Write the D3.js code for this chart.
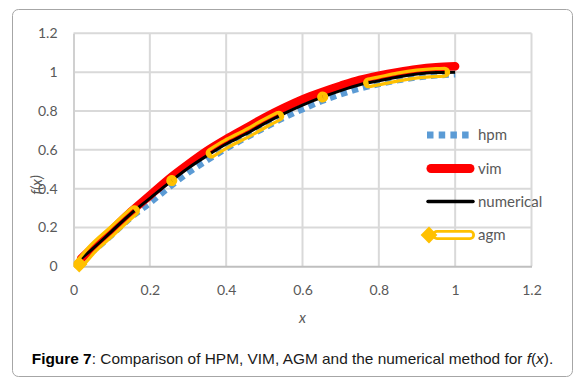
<!DOCTYPE html>
<html>
<head>
<meta charset="utf-8">
<script src="https://cdn.jsdelivr.net/npm/d3@7"></script>
<style>
  html, body { margin: 0; padding: 0; background: #fff; }
  svg { display: block; }
</style>
</head>
<body>
<svg id="chart" width="578" height="384"></svg>
<script>
// ---------- data ----------
const xValues = [0.02, 0.05, 0.1, 0.15, 0.2, 0.25, 0.3, 0.35, 0.4, 0.45, 0.5, 0.55, 0.6, 0.65, 0.7, 0.75, 0.8, 0.85, 0.9, 0.95, 1.0];
const hpmValues = [0.03, 0.075, 0.16, 0.25, 0.325, 0.405, 0.48, 0.545, 0.605, 0.66, 0.712, 0.763, 0.808, 0.85, 0.885, 0.915, 0.938, 0.958, 0.972, 0.982, 0.988];
const vimValues = [0.04, 0.095, 0.185, 0.28, 0.365, 0.45, 0.525, 0.595, 0.655, 0.71, 0.765, 0.815, 0.86, 0.897, 0.93, 0.96, 0.982, 1.0, 1.015, 1.025, 1.03];
const numericalValues = [0.04, 0.09, 0.18, 0.27, 0.35, 0.43, 0.505, 0.57, 0.63, 0.68, 0.735, 0.785, 0.83, 0.87, 0.905, 0.935, 0.955, 0.975, 0.99, 0.998, 1.0];
const agmX = [0.015, 0.05, 0.1, 0.15, 0.2, 0.25, 0.3, 0.35, 0.4, 0.45, 0.5, 0.55, 0.6, 0.65, 0.7, 0.75, 0.8, 0.85, 0.9, 0.95, 0.98];
const agmValues = [0.01, 0.09, 0.18, 0.27, 0.35, 0.43, 0.505, 0.57, 0.63, 0.68, 0.735, 0.785, 0.83, 0.87, 0.905, 0.935, 0.955, 0.975, 0.99, 0.998, 1.0];
const seriesNames = ["hpm", "vim", "numerical", "agm"];
const xTicks = [0, 0.2, 0.4, 0.6, 0.8, 1, 1.2];
const yTicks = [0, 0.2, 0.4, 0.6, 0.8, 1, 1.2];
const xTitle = "x";
const yTitle = "f(x)";

// ---------- layout ----------
const svg = d3.select("#chart");
const W = 578, H = 384;
const x = d3.scaleLinear().domain([0, 1.2]).range([73.5, 531.5]);
const y = d3.scaleLinear().domain([0, 1.2]).range([266.3, 33.3]);
const font = "Lato, 'Open Sans', sans-serif";
const labelColor = "#595959";

// outer frame
svg.append("rect").attr("x", 12.5).attr("y", 9.5).attr("width", 560).attr("height", 367)
  .attr("rx", 6).attr("fill", "#fff").attr("stroke", "#a6a6a6").attr("stroke-width", 1);

// grid
const grid = svg.append("g");
grid.selectAll("line.h").data(yTicks.filter(d => d > 0)).join("line")
  .attr("x1", x(0)).attr("x2", x(1.2)).attr("y1", d => y(d)).attr("y2", d => y(d))
  .attr("stroke", "#d9d9d9").attr("stroke-width", 2);
grid.selectAll("line.v").data(xTicks.filter(d => d > 0)).join("line")
  .attr("y1", y(0)).attr("y2", y(1.2)).attr("x1", d => x(d)).attr("x2", d => x(d))
  .attr("stroke", "#d9d9d9").attr("stroke-width", 2);

// axes
const fmt = d => (d === 0 ? "0" : d === 1 ? "1" : String(d));
const xAxis = svg.append("g").attr("transform", `translate(0,${y(0)})`)
  .call(d3.axisBottom(x).tickValues(xTicks).tickFormat(fmt).tickSize(0).tickPadding(19));
const yAxis = svg.append("g").attr("transform", `translate(${x(0)},0)`)
  .call(d3.axisLeft(y).tickValues(yTicks).tickFormat(fmt).tickSize(0).tickPadding(16));
[xAxis, yAxis].forEach(a => {
  a.select(".domain").attr("stroke", "#bfbfbf").attr("stroke-width", 2);
  a.selectAll("text").attr("fill", labelColor).style("font-family", font).style("font-size", "14px");
});
yAxis.select(".domain").attr("stroke", "#d0d0d0");

// axis titles
svg.append("text").attr("x", x(0.6)).attr("y", 323).attr("text-anchor", "middle")
  .style("font-family", font).style("font-size", "15px").style("font-style", "italic")
  .attr("fill", labelColor).text(xTitle);
svg.append("text").attr("transform", "translate(42,185) rotate(-90)").attr("text-anchor", "middle")
  .style("font-family", font).style("font-size", "15px").style("font-style", "italic")
  .attr("fill", labelColor).text(yTitle);

// ---------- series ----------
const line = d3.line().x(d => x(d[0])).y(d => y(d[1])).curve(d3.curveMonotoneX);
const hpm = xValues.map((v, i) => [v, hpmValues[i]]);
const vim = xValues.map((v, i) => [v, vimValues[i]]);
const num = xValues.map((v, i) => [v, numericalValues[i]]);
const agm = agmX.map((v, i) => [v, agmValues[i]]);

const colors = { hpm: "#5b9bd5", vim: "#ff0000", numerical: "#000000", agm: "#ffc000" };

svg.append("path").attr("d", line(hpm)).attr("fill", "none").attr("stroke", colors.hpm)
  .attr("stroke-width", 6).attr("stroke-dasharray", "6.5,5");
svg.append("path").attr("d", line(vim)).attr("fill", "none").attr("stroke", colors.vim)
  .attr("stroke-width", 8.5).attr("stroke-linecap", "round").attr("stroke-linejoin", "round");
svg.append("path").attr("d", line(num)).attr("fill", "none").attr("stroke", colors.numerical)
  .attr("stroke-width", 3);

// agm: hollow dash-dot line (transparent centre) via mask
const defs = svg.append("defs");
const agmDash = "77,48,0.1,48";
const mask = defs.append("mask").attr("id", "agmMask").attr("maskUnits", "userSpaceOnUse")
  .attr("x", 0).attr("y", 0).attr("width", W).attr("height", H);
mask.append("rect").attr("width", W).attr("height", H).attr("fill", "#fff");
mask.append("path").attr("d", line(agm)).attr("fill", "none").attr("stroke", "#000")
  .attr("stroke-width", 4.5).attr("stroke-dasharray", agmDash).attr("stroke-linecap", "butt");
defs.append("clipPath").attr("id", "plotClip").append("rect")
  .attr("x", x(0)).attr("y", 0).attr("width", x(1.2) - x(0) + 20).attr("height", 300);

const agmG = svg.append("g").attr("clip-path", "url(#plotClip)");
agmG.append("path").attr("d", line(agm)).attr("fill", "none").attr("stroke", colors.agm)
  .attr("stroke-width", 11).attr("stroke-dasharray", agmDash).attr("stroke-linecap", "round")
  .attr("stroke-linejoin", "round").attr("mask", "url(#agmMask)");
agmG.append("path").attr("d", d3.symbol().type(d3.symbolDiamond2).size(170)())
  .attr("transform", `translate(${x(agm[0][0])},${y(agm[0][1])})`).attr("fill", colors.agm);

// ---------- legend ----------
const lg = svg.append("g");
const rowsY = [135, 168.5, 201.5, 235];
const lx1 = 427, lx2 = 474;
seriesNames.forEach((name, i) => {
  const yy = rowsY[i];
  if (name === "hpm") {
    lg.append("line").attr("x1", lx1).attr("x2", lx2 - 4).attr("y1", yy).attr("y2", yy)
      .attr("stroke", colors.hpm).attr("stroke-width", 7).attr("stroke-dasharray", "6.5,5.2");
  } else if (name === "vim") {
    lg.append("line").attr("x1", lx1 + 4).attr("x2", lx2 - 4).attr("y1", yy).attr("y2", yy)
      .attr("stroke", colors.vim).attr("stroke-width", 9).attr("stroke-linecap", "round");
  } else if (name === "numerical") {
    lg.append("line").attr("x1", lx1 + 1).attr("x2", lx2 - 1).attr("y1", yy).attr("y2", yy)
      .attr("stroke", colors.numerical).attr("stroke-width", 3.5).attr("stroke-linecap", "round");
  } else {
    lg.append("line").attr("x1", 437).attr("x2", lx2 - 4).attr("y1", yy).attr("y2", yy)
      .attr("stroke", colors.agm).attr("stroke-width", 10).attr("stroke-linecap", "round");
    lg.append("line").attr("x1", 437).attr("x2", lx2 - 4).attr("y1", yy).attr("y2", yy)
      .attr("stroke", "#fff").attr("stroke-width", 4.5).attr("stroke-linecap", "round");
    lg.append("path").attr("d", d3.symbol().type(d3.symbolDiamond2).size(180)())
      .attr("transform", `translate(429,${yy})`).attr("fill", colors.agm);
  }
  lg.append("text").attr("x", 478).attr("y", yy).attr("dy", "0.35em")
    .style("font-family", font).style("font-size", "15px").attr("fill", labelColor).text(name);
});

// ---------- caption ----------
const cap = svg.append("text").attr("x", 292.5).attr("y", 364).attr("text-anchor", "middle")
  .style("font-family", "'Liberation Sans', Arial, sans-serif").style("font-size", "14px").attr("fill", "#1a1a1a");
cap.append("tspan").style("font-weight", "bold").attr("fill", "#000").text("Figure 7");
cap.append("tspan").text(": Comparison of HPM, VIM, AGM and the numerical method for ");
cap.append("tspan").style("font-style", "italic").text("f");
cap.append("tspan").text("(");
cap.append("tspan").style("font-style", "italic").text("x");
cap.append("tspan").text(").");
// fit caption width to the reference (~522px)
const cw = cap.node().getComputedTextLength();
cap.style("font-size", (14 * 522 / cw).toFixed(2) + "px");
</script>
</body>
</html>
